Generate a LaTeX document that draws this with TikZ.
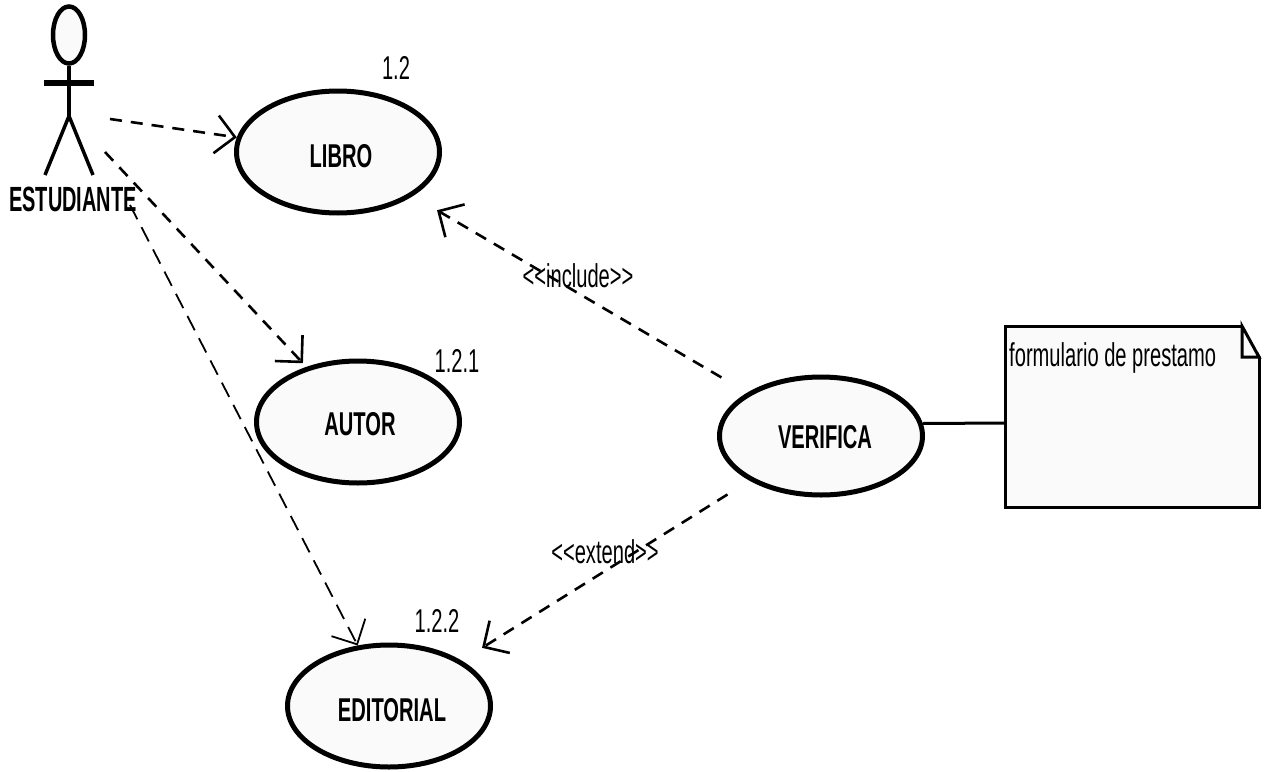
\documentclass[tikz,border=0pt]{standalone}
\usepackage{fontspec}
\usetikzlibrary{arrows.meta,shapes.geometric}
\newfontfamily\diagfont[FakeStretch=0.61]{Liberation Sans}
\newfontfamily\actorfont[FakeStretch=0.57]{Liberation Sans}
\definecolor{relleno}{rgb}{0.98,0.98,0.98}
\tikzset{
  usecase/.style={draw,ellipse,line width=5pt,fill=relleno,minimum width=203pt,minimum height=122pt,inner sep=0pt},
  casotexto/.style={inner sep=0pt,font=\diagfont\fontsize{33}{33}\selectfont\bfseries},
  numero/.style={font=\diagfont\fontsize{33}{33}\selectfont,inner sep=0pt},
  estereotipo/.style={font=\diagfont\fontsize{33}{33}\selectfont,inner sep=0pt},
  dep/.style={dashed,line width=2.6pt,dash pattern=on 12pt off 9pt,-{Straight Barb[length=19pt,width=38pt,line width=2.6pt]}},
  depfino/.style={dep,line width=1.8pt,dash pattern=on 16pt off 9pt,-{Straight Barb[length=19pt,width=38pt,line width=1.8pt]}},
  actor/.style={line width=3.5pt}
}
\begin{document}
\begin{tikzpicture}[x=1pt,y=-1pt]
\useasboundingbox (0,0) rectangle (1271,771);
% actor
\node[draw,ellipse,line width=4.5pt,fill=relleno,minimum width=32pt,minimum height=57pt,inner sep=0pt] (cabeza) at (69,35) {};
\coordinate (cadera) at (69,116);
\draw[actor] (cabeza.south) -- (cadera);
\draw[line width=6pt] (44,83) -- (94,83);
\draw[actor] (45,175) -- (cadera) -- (93,175);
\node[inner sep=0pt,font=\actorfont\fontsize{35}{35}\selectfont\bfseries] (estudiante) at (73,199) {ESTUDIANTE};
% casos de uso
\node[usecase,label={[casotexto,xshift=3pt,yshift=-4pt]center:LIBRO}] (libro) at (338,152) {};
\node[usecase,label={[casotexto,xshift=2pt,yshift=-2pt]center:AUTOR}] (autor) at (358,422) {};
\node[usecase,label={[casotexto,xshift=3pt,yshift=-4pt]center:EDITORIAL}] (editorial) at (389,706) {};
\node[usecase,minimum height=118pt,label={[casotexto,xshift=4pt,yshift=-1pt]center:VERIFICA}] (verifica) at (821,436) {};
\node[numero] (n12) at (396,68) {1.2};
\node[numero] (n121) at (457,361) {1.2.1};
\node[numero] (n122) at (437,621) {1.2.2};
% nota
\node[draw,line width=3pt,fill=relleno,minimum width=254pt,minimum height=181pt,inner sep=0pt] (nota) at (1132,416.5) {};
\fill[white] (1242,324) -- (1261,324) -- (1261,357) -- cycle;
\draw[line width=3pt] (1242,326) -- (1259,357) -- (1242,357) -- cycle;
\node[numero,anchor=west] (formulario) at (1009,358) {formulario de prestamo};
% conectores
\coordinate (e1) at (110,119);
\coordinate (e2) at (105,152);
\coordinate (e3) at (130,205);
\coordinate (enganche) at (1005,423);
\draw[dep] (e1) -- (libro);
\draw[dep,shorten >=5pt] (e2) -- (autor);
\draw[depfino] (e3) -- (editorial);
\draw[dep,shorten <=30pt,shorten >=28pt] (verifica) -- (libro);
\draw[dep,shorten <=26pt,shorten >=24pt] (verifica) -- (editorial);
\draw[line width=3pt] (verifica.7) -- (enganche);
\node[estereotipo] (include) at (578,276) {<<include>>};
\node[estereotipo] (extend) at (605,552) {<<extend>>};
\end{tikzpicture}
\end{document}
